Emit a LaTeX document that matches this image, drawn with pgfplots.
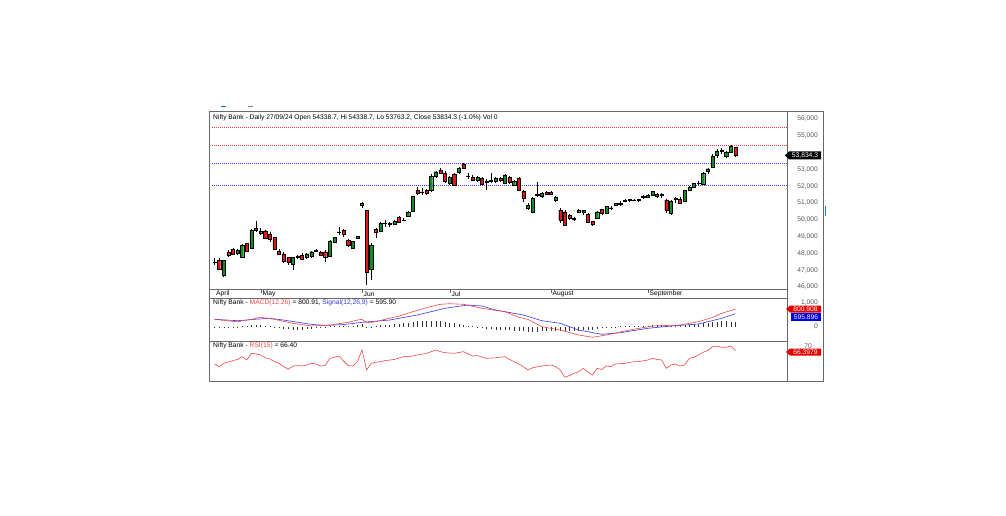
\documentclass[border=0pt]{standalone}
\usepackage{pgfplots}
\pgfplotsset{compat=1.18}
\usepackage{pgfplotstable}
\usepackage{fontspec}
\setmainfont{Liberation Sans}

\definecolor{cgreen}{RGB}{20,140,40}
\definecolor{cred}{RGB}{225,25,25}
\definecolor{macdred}{RGB}{238,70,70}
\definecolor{sigblue}{RGB}{55,55,230}
\definecolor{framegray}{RGB}{105,105,105}
\definecolor{lblgray}{RGB}{85,85,85}
\definecolor{levred}{RGB}{235,60,60}
\definecolor{levblue}{RGB}{60,60,235}

% daily OHLC, bar index 0 = 16 Apr 2024 ... 113 = 27 Sep 2024
\pgfplotstableread{
i o h l c
0 47450 47700 47280 47480
1 47580 47700 47010 47070
2 46720 47620 46580 47570
3 48100 48200 47800 47920
4 48250 48300 47900 47970
5 48000 48250 47900 48190
6 47760 48560 47700 48490
7 48600 48640 48100 48150
8 48300 49480 48250 49390
9 49490 49900 49300 49380
10 49300 49500 49100 49230
11 49350 49400 48850 48900
12 49150 49250 48700 48840
13 48940 49000 48200 48260
14 48140 48250 47900 47950
15 47980 48100 47450 47510
16 47750 47800 47300 47450
17 47350 47800 47000 47750
18 47760 47900 47650 47850
19 47900 48000 47600 47670
20 47800 48000 47650 47980
21 47810 48150 47750 48100
22 48150 48250 48100 48190
23 48060 48150 47850 47900
24 48100 48200 47500 47800
25 47860 48800 47800 48740
26 48660 49000 48600 48940
27 49250 49600 49100 49280
28 49390 49450 49000 49140
29 48760 48850 48400 48460
30 48300 48750 48250 48700
31 48900 49050 48850 49000
32 50880 51080 50700 50980
33 50580 50600 46120 46870
34 47060 48600 46420 48510
35 49430 49500 48940 49290
36 49330 49850 49300 49790
37 49780 49980 49600 49790
38 49800 49850 49600 49730
39 49750 50000 49700 49890
40 50130 50200 49800 49850
41 49950 50100 49900 50000
42 50190 50500 50150 50440
43 50520 51400 50500 51380
44 51780 51960 51500 51600
45 51650 51900 51500 51660
46 51750 51850 51500 51600
47 51770 52700 51650 52570
48 52600 52900 52500 52860
49 52930 53080 52700 52770
50 52800 52900 52200 52270
51 52170 52600 52100 52530
52 52730 52800 52000 52080
53 52810 53150 52750 53060
54 53320 53360 53000 53064
55 52620 52760 52410 52600
56 52530 52650 52300 52370
57 52330 52600 52250 52530
58 52470 52550 52050 52130
59 52290 52400 51770 52260
60 52300 52770 52200 52340
61 52270 52550 52200 52470
62 52470 52550 52250 52330
63 52170 52720 52120 52670
64 52530 52600 52150 52210
65 52070 52350 52000 52270
66 52470 52550 51700 51770
67 51680 51750 51080 51280
68 50680 50980 50580 50880
69 50430 51350 50400 51280
70 51540 52270 51380 51440
71 51380 51650 51300 51580
72 51620 51700 51450 51530
73 51640 51700 51450 51540
74 51140 51400 51080 51340
75 50580 50700 49800 50000
76 50480 50600 49650 49700
77 50250 50350 50000 50090
78 50050 50150 49950 50120
79 50580 50650 50400 50480
80 50450 50600 50300 50570
81 50330 50400 49800 49830
82 49900 49950 49650 49730
83 50090 50550 50050 50480
84 50620 50650 50300 50370
85 50390 50850 50350 50800
86 50720 50800 50600 50685
87 50850 51000 50800 50985
88 51000 51100 50850 50930
89 51100 51250 51050 51150
90 51200 51250 51050 51140
91 51180 51250 51100 51140
92 51200 51250 51050 51150
93 51380 51450 51250 51350
94 51350 51550 51300 51440
95 51450 51700 51400 51690
96 51500 51600 51300 51400
97 51500 51600 51300 51470
98 51180 51250 50400 50580
99 50400 51150 50300 51120
100 51200 51350 51000 51270
101 51200 51350 50950 51010
102 51100 51800 51050 51770
103 51780 52000 51700 51940
104 51950 52200 51900 52150
105 52200 52300 52050 52190
106 52100 52850 52050 52750
107 52900 53100 52750 53040
108 53150 53900 53100 53800
109 53850 54200 53700 54100
110 54150 54250 53900 54100
111 53800 54100 53650 54000
112 54000 54470 53950 54380
113 54338.7 54338.7 53763.2 53834.3
}\ohlc

% MACD minus signal
\pgfplotstableread{
i v
0 -40
1 -50
2 -50
3 -40
4 -30
5 -30
6 20
7 30
8 60
9 70
10 60
11 40
12 20
13 -20
14 -60
15 -100
16 -130
17 -140
18 -150
19 -150
20 -130
21 -110
22 -80
23 -50
24 -20
25 10
26 30
27 40
28 40
29 30
30 40
31 60
32 100
33 -20
34 -10
35 20
36 50
37 70
38 90
39 110
40 130
41 150
42 170
43 220
44 250
45 260
46 260
47 270
48 260
49 240
50 210
51 180
52 150
53 120
54 80
55 40
56 10
57 -30
58 -70
59 -100
60 -130
61 -150
62 -160
63 -170
64 -180
65 -190
66 -210
67 -230
68 -250
69 -250
70 -240
71 -230
72 -220
73 -210
74 -200
75 -220
76 -230
77 -220
78 -200
79 -190
80 -170
81 -160
82 -150
83 -110
84 -80
85 -50
86 -30
87 -10
88 10
89 20
90 30
91 35
92 40
93 40
94 45
95 50
96 50
97 50
98 20
99 30
100 40
101 30
102 60
103 80
104 100
105 110
106 140
107 170
108 200
109 230
110 240
111 240
112 230
113 205
}\hist

% horizontal levels of the price panel
\pgfplotstableread{
x r1 r2 b1 b2
-0.5 55494 54422 53351 52041
125 55494 54422 53351 52041
}\levels

\pgfplotsset{
  panel/.style={scale only axis, width=578pt, xmin=-1.193, xmax=124.19,
    hide axis, clip=true},
}
\tikzset{lbl/.style={font=\fontsize{6.7}{7.5}\selectfont, inner sep=0pt}}

\begin{document}
\begin{tikzpicture}
\path[use as bounding box] (0pt,0pt) rectangle (1006pt,-516pt);

% price panel: levels and wicks
\begin{axis}[panel, at={(209pt,-289pt)}, height=178pt, ymin=45880, ymax=56476]
\addplot [draw=levred, line width=1pt, dash pattern=on 1pt off 1pt] table [x=x, y=r1] {\levels};
\addplot [draw=levred, line width=1pt, dash pattern=on 1pt off 1pt] table [x=x, y=r2] {\levels};
\addplot [draw=levblue, line width=1pt, dash pattern=on 1pt off 1pt] table [x=x, y=b1] {\levels};
\addplot [draw=levblue, line width=1pt, dash pattern=on 1pt off 1pt] table [x=x, y=b2] {\levels};
\addplot [draw=none, mark=none, error bars/.cd, y dir=both, y explicit,
  error mark=none, error bar style={draw=black, solid, line width=0.45pt}]
  table [x=i, y expr={(\thisrow{h}+\thisrow{l})/2},
         y error expr={(\thisrow{h}-\thisrow{l})/2}] {\ohlc};
\end{axis}

% candle bodies
\begin{axis}[panel, at={(209pt,-289pt)}, height=178pt, ymin=45880, ymax=56476,
  ybar stacked, bar width=0.68]
\addplot [draw=none, fill=none] table [x=i, y expr={min(\thisrow{o},\thisrow{c})}] {\ohlc};
\addplot [draw=black, line width=0.35pt, fill=cgreen] table [x=i, y expr={max(\thisrow{c}-\thisrow{o},0)}] {\ohlc};
\addplot [draw=black, line width=0.35pt, fill=cred] table [x=i, y expr={max(\thisrow{o}-\thisrow{c},0)}] {\ohlc};
\end{axis}

% MACD panel
\begin{axis}[panel, at={(209pt,-341pt)}, height=42pt, ymin=-674, ymax=1279]
\addplot [black!80, ycomb, line width=0.4pt] table [x=i, y=v] {\hist};
\addplot [sigblue, line width=0.6pt] coordinates {
(0,335) (5,270) (9,340) (12,381) (15,300) (18,200) (21,100) (24,50) (28,90)
(32,195) (38,302) (44,535) (50,847) (55,1000) (58,950) (61,767) (67,535)
(71,270) (75,149) (79,-163) (84,-363) (88,-288) (94,-84) (99,23) (105,116)
(110,381) (113,596)};
\addplot [macdred, line width=0.6pt] coordinates {
(0,335) (3,260) (5,223) (8,330) (10,428) (13,335) (17,149) (21,23) (25,70)
(29,195) (31,300) (32,335) (33,177) (35,220) (37,335) (40,480) (43,688)
(46,880) (49,1033) (51,1060) (54,1033) (58,847) (63,688) (66,430) (68,330)
(71,-9) (75,-163) (79,-395) (82,-502) (85,-395) (90,-163) (95,23) (101,70)
(105,223) (108,420) (110,614) (113,801)};
\end{axis}

% RSI panel
\begin{axis}[panel, at={(209pt,-381pt)}, height=40pt, ymin=39.1, ymax=75.1]
\addplot [macdred, line width=0.6pt] coordinates {
(0,54.4) (1,52) (2,55) (4,57.4) (5,58.5) (6,61) (7,58) (8,64) (9,63.5) (10,62.5)
(11,60) (12,59) (13,56.5) (14,55) (15,52) (16,49.6) (17,52.5) (18,53) (19,52.6)
(20,53.5) (21,55) (22,54.4) (23,52.6) (24,53) (25,59.5) (26,60.5) (27,61.6)
(28,57.1) (29,53) (30,52.6) (31,56.5) (32,67) (33,49) (34,55) (35,56) (36,56.5)
(37,57.4) (39,58.5) (41,61) (43,61.5) (44,62.5) (46,64) (48,67) (49,65.5)
(50,64.6) (52,64) (54,65.5) (56,61.6) (57,62) (59,59.5) (61,60) (63,61)
(64,58.5) (65,56.5) (66,54.4) (67,52) (68,49) (69,51) (71,52.6) (73,53.5)
(74,52) (75,49) (76,42.4) (77,44) (78,46) (79,47.5) (80,50.5) (81,47)
(82,44.5) (83,50.5) (84,49.5) (85,52.6) (86,52) (87,54.4) (89,55) (91,56.5)
(92,56.5) (94,58) (95,59.5) (96,58.5) (97,58) (98,50.5) (99,53.5) (100,54.4)
(101,52.5) (102,53.5) (103,59.5) (104,60.5) (105,62.5) (106,65) (107,66.5)
(108,70) (109,70.5) (110,69.4) (111,69.5) (112,70.6) (113,66.4)};
\end{axis}

% frame
\begin{scope}[framegray, line width=0.7pt]
\draw (209pt,-111pt) rectangle (823pt,-381pt);
\draw (787pt,-111pt) -- (787pt,-381pt);
\draw (209pt,-289pt) -- (787pt,-289pt);
\draw (209pt,-298.5pt) -- (787pt,-298.5pt);
\draw (209pt,-341pt) -- (787pt,-341pt);
\end{scope}
% toolbar remnants
\draw[teal, line width=0.6pt] (221pt,-106pt) -- (226pt,-106pt);
\draw[gray, line width=0.6pt] (248pt,-106pt) -- (253pt,-106pt);
\draw[cyan!60!blue, line width=0.6pt] (825pt,-206pt) -- (825pt,-216pt);

% titles
\node[lbl, anchor=west] at (213pt,-118pt) {Nifty Bank - Daily 27/09/24 Open 54338.7, Hi 54338.7, Lo 53763.2, Close 53834.3 (-1.0\%) Vol 0};
\node[lbl, anchor=west] at (213pt,-303pt) {Nifty Bank - \textcolor{macdred}{MACD(12,26)} = 800.91, \textcolor{sigblue}{Signal(12,26,9)} = 595.90};
\node[lbl, anchor=west] at (213pt,-346pt) {Nifty Bank - \textcolor{macdred}{RSI(15)} = 66.40};

% month labels
\foreach \xx/\mm in {261/May, 362/Jun, 450/Jul, 551/August, 648/September}{
  \draw[framegray, line width=0.5pt] (\xx pt,-289pt) -- (\xx pt,-292.5pt);
  \node[lbl, anchor=west] at (\xx pt+1.5pt,-294pt) {\mm};
}
\node[lbl, anchor=west] at (216pt,-294pt) {April};

% price scale
\foreach \yy/\pp in {119/56{,}000, 135.8/55{,}000, 169.4/53{,}000, 186.2/52{,}000,
  203/51{,}000, 219.8/50{,}000, 236.6/49{,}000, 253.4/48{,}000, 270.2/47{,}000, 287/46{,}000}{
  \node[lbl, anchor=east, text=lblgray] at (818pt,-\yy pt) {\pp};
}
\fill[black] (785pt,-155.4pt) -- (789pt,-151.4pt) -- (821pt,-151.4pt) -- (821pt,-159.4pt) -- (789pt,-159.4pt) -- cycle;
\node[lbl, text=white] at (805pt,-155.4pt) {53,834.3};

% MACD scale
\node[lbl, anchor=east, text=lblgray] at (818pt,-303pt) {1,000};
\node[lbl, anchor=east, text=lblgray] at (818pt,-326.5pt) {0};
\fill[red!90!black] (786pt,-309pt) -- (790pt,-305.5pt) -- (821pt,-305.5pt) -- (821pt,-312.5pt) -- (790pt,-312.5pt) -- cycle;
\node[lbl, text=white] at (805.5pt,-309pt) {800.908};
\fill[blue!90!black] (791pt,-313pt) rectangle (821pt,-320.5pt);
\node[lbl, text=white] at (806pt,-316.7pt) {595.896};

% RSI scale
\node[lbl, anchor=east, text=lblgray] at (812pt,-346.5pt) {70};
\fill[red!90!black] (786pt,-352pt) -- (790pt,-348.5pt) -- (821pt,-348.5pt) -- (821pt,-355.5pt) -- (790pt,-355.5pt) -- cycle;
\node[lbl, text=white] at (805.5pt,-352pt) {66.3979};
\end{tikzpicture}
\end{document}
